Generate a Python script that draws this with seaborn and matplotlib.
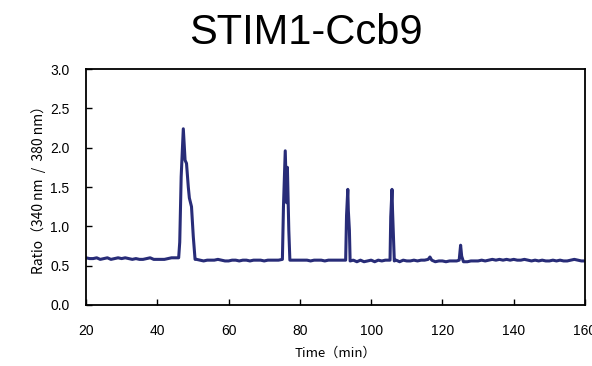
import matplotlib
matplotlib.use("Agg")
import matplotlib.pyplot as plt
import seaborn as sns
import pandas as pd

# ---- data ----
time_min = [
    20, 21, 22, 23, 24, 25, 26, 27, 28, 29, 30, 31, 32, 33, 34, 35, 36, 37, 38, 39,
    40, 41, 42, 43, 44, 45, 46.0, 46.3, 46.7, 47.3, 47.8, 48.2, 48.7, 49.0, 49.6, 50.1,
    50.6, 51, 52, 53, 54, 55, 56, 57, 58, 59, 60, 61, 62, 63, 64, 65, 66, 67, 68, 69,
    70, 71, 72, 73, 74, 75.1, 75.4, 75.9, 76.3, 76.5, 76.9, 77.2, 78, 79, 80, 81, 82,
    83, 84, 85, 86, 87, 88, 89, 90, 91, 92, 92.85, 93.1, 93.45, 93.6, 93.9, 94.1, 95,
    96, 97, 98, 99, 100, 101, 102, 103, 104, 105.3, 105.5, 105.85, 106.0, 106.2, 106.5,
    107, 108, 109, 110, 111, 112, 113, 114, 115, 116, 116.5, 117, 118, 119, 120, 121,
    122, 123, 124, 124.7, 125.1, 125.4, 125.9, 127, 128, 129, 130, 131, 132, 133, 134,
    135, 136, 137, 138, 139, 140, 141, 142, 143, 144, 145, 146, 147, 148, 149, 150,
    151, 152, 153, 154, 155, 156, 157, 158, 159, 160,
]
ratio = [
    0.60, 0.59, 0.59, 0.60, 0.58, 0.59, 0.60, 0.58, 0.59, 0.60, 0.59, 0.60, 0.59, 0.58, 0.59, 0.58, 0.58, 0.59, 0.60, 0.58,
    0.58, 0.58, 0.58, 0.59, 0.60, 0.60, 0.60, 0.80, 1.63, 2.24, 1.84, 1.80, 1.50, 1.36, 1.25, 0.87,
    0.58, 0.58, 0.57, 0.56, 0.57, 0.57, 0.57, 0.58, 0.57, 0.56, 0.56, 0.57, 0.57, 0.56, 0.57, 0.57, 0.56, 0.57, 0.57, 0.57,
    0.56, 0.57, 0.57, 0.57, 0.57, 0.58, 1.25, 1.96, 1.30, 1.75, 0.95, 0.57, 0.57, 0.57, 0.57, 0.57, 0.57,
    0.56, 0.57, 0.57, 0.57, 0.56, 0.57, 0.57, 0.57, 0.57, 0.57, 0.57, 1.14, 1.47, 1.20, 0.95, 0.56, 0.57,
    0.55, 0.57, 0.55, 0.56, 0.57, 0.55, 0.57, 0.56, 0.57, 0.57, 1.12, 1.47, 1.20, 0.95, 0.56,
    0.57, 0.55, 0.57, 0.56, 0.56, 0.57, 0.56, 0.57, 0.57, 0.58, 0.61, 0.57, 0.55, 0.56, 0.56, 0.55,
    0.56, 0.56, 0.56, 0.57, 0.76, 0.62, 0.55, 0.55, 0.56, 0.56, 0.56, 0.57, 0.56, 0.57, 0.58,
    0.57, 0.58, 0.57, 0.58, 0.57, 0.58, 0.57, 0.57, 0.58, 0.57, 0.56, 0.57, 0.56, 0.57, 0.56, 0.56,
    0.57, 0.56, 0.57, 0.56, 0.56, 0.57, 0.58, 0.57, 0.56, 0.56,
]
x_ticks = [20, 40, 60, 80, 100, 120, 140, 160]
y_ticks = [0.0, 0.5, 1.0, 1.5, 2.0, 2.5, 3.0]
title_text = "STIM1-Ccb9"
x_label = "Time（min）"
y_label = "Ratio（340 nm  /  380 nm）"

df = pd.DataFrame({"time": time_min, "ratio": ratio})

sns.set_theme(style="ticks")
plt.rcParams["font.family"] = ["Liberation Sans", "Noto Sans CJK JP", "DejaVu Sans"]
plt.rcParams["text.color"] = "black"

fig = plt.figure(figsize=(5.92, 3.66), dpi=100)
ax = fig.add_axes([86 / 592, 1 - 305 / 366, (585 - 86) / 592, (305 - 69) / 366])

sns.lineplot(data=df, x="time", y="ratio", ax=ax, color="#282c78", linewidth=2.2,
             solid_joinstyle="round", solid_capstyle="round")

ax.set_xlim(20, 160)
ax.set_ylim(0, 3.0)
ax.set_xticks(x_ticks)
ax.set_yticks(y_ticks)
ax.set_xticklabels([str(v) for v in x_ticks], fontsize=10)
ax.set_yticklabels([f"{v:.1f}" for v in y_ticks], fontsize=10)
ax.tick_params(direction="in", length=4, width=1, pad=12, colors="black")
ax.tick_params(axis="x", pad=14)
for s in ax.spines.values():
    s.set_linewidth(1.3)
    s.set_color("black")

ax.set_xlabel(x_label, fontsize=9.5, family=["Noto Sans CJK JP", "DejaVu Sans"], labelpad=6,
              color="black")
ax.set_ylabel(y_label, fontsize=10, family=["Noto Sans CJK JP", "DejaVu Sans"], labelpad=3,
              color="black")

fig.text(306 / 592, 1 - 33 / 366, title_text, ha="center", va="center", fontsize=30,
         family=["Liberation Sans", "DejaVu Sans"], color="black")

fig.savefig("out.png", dpi=100)
